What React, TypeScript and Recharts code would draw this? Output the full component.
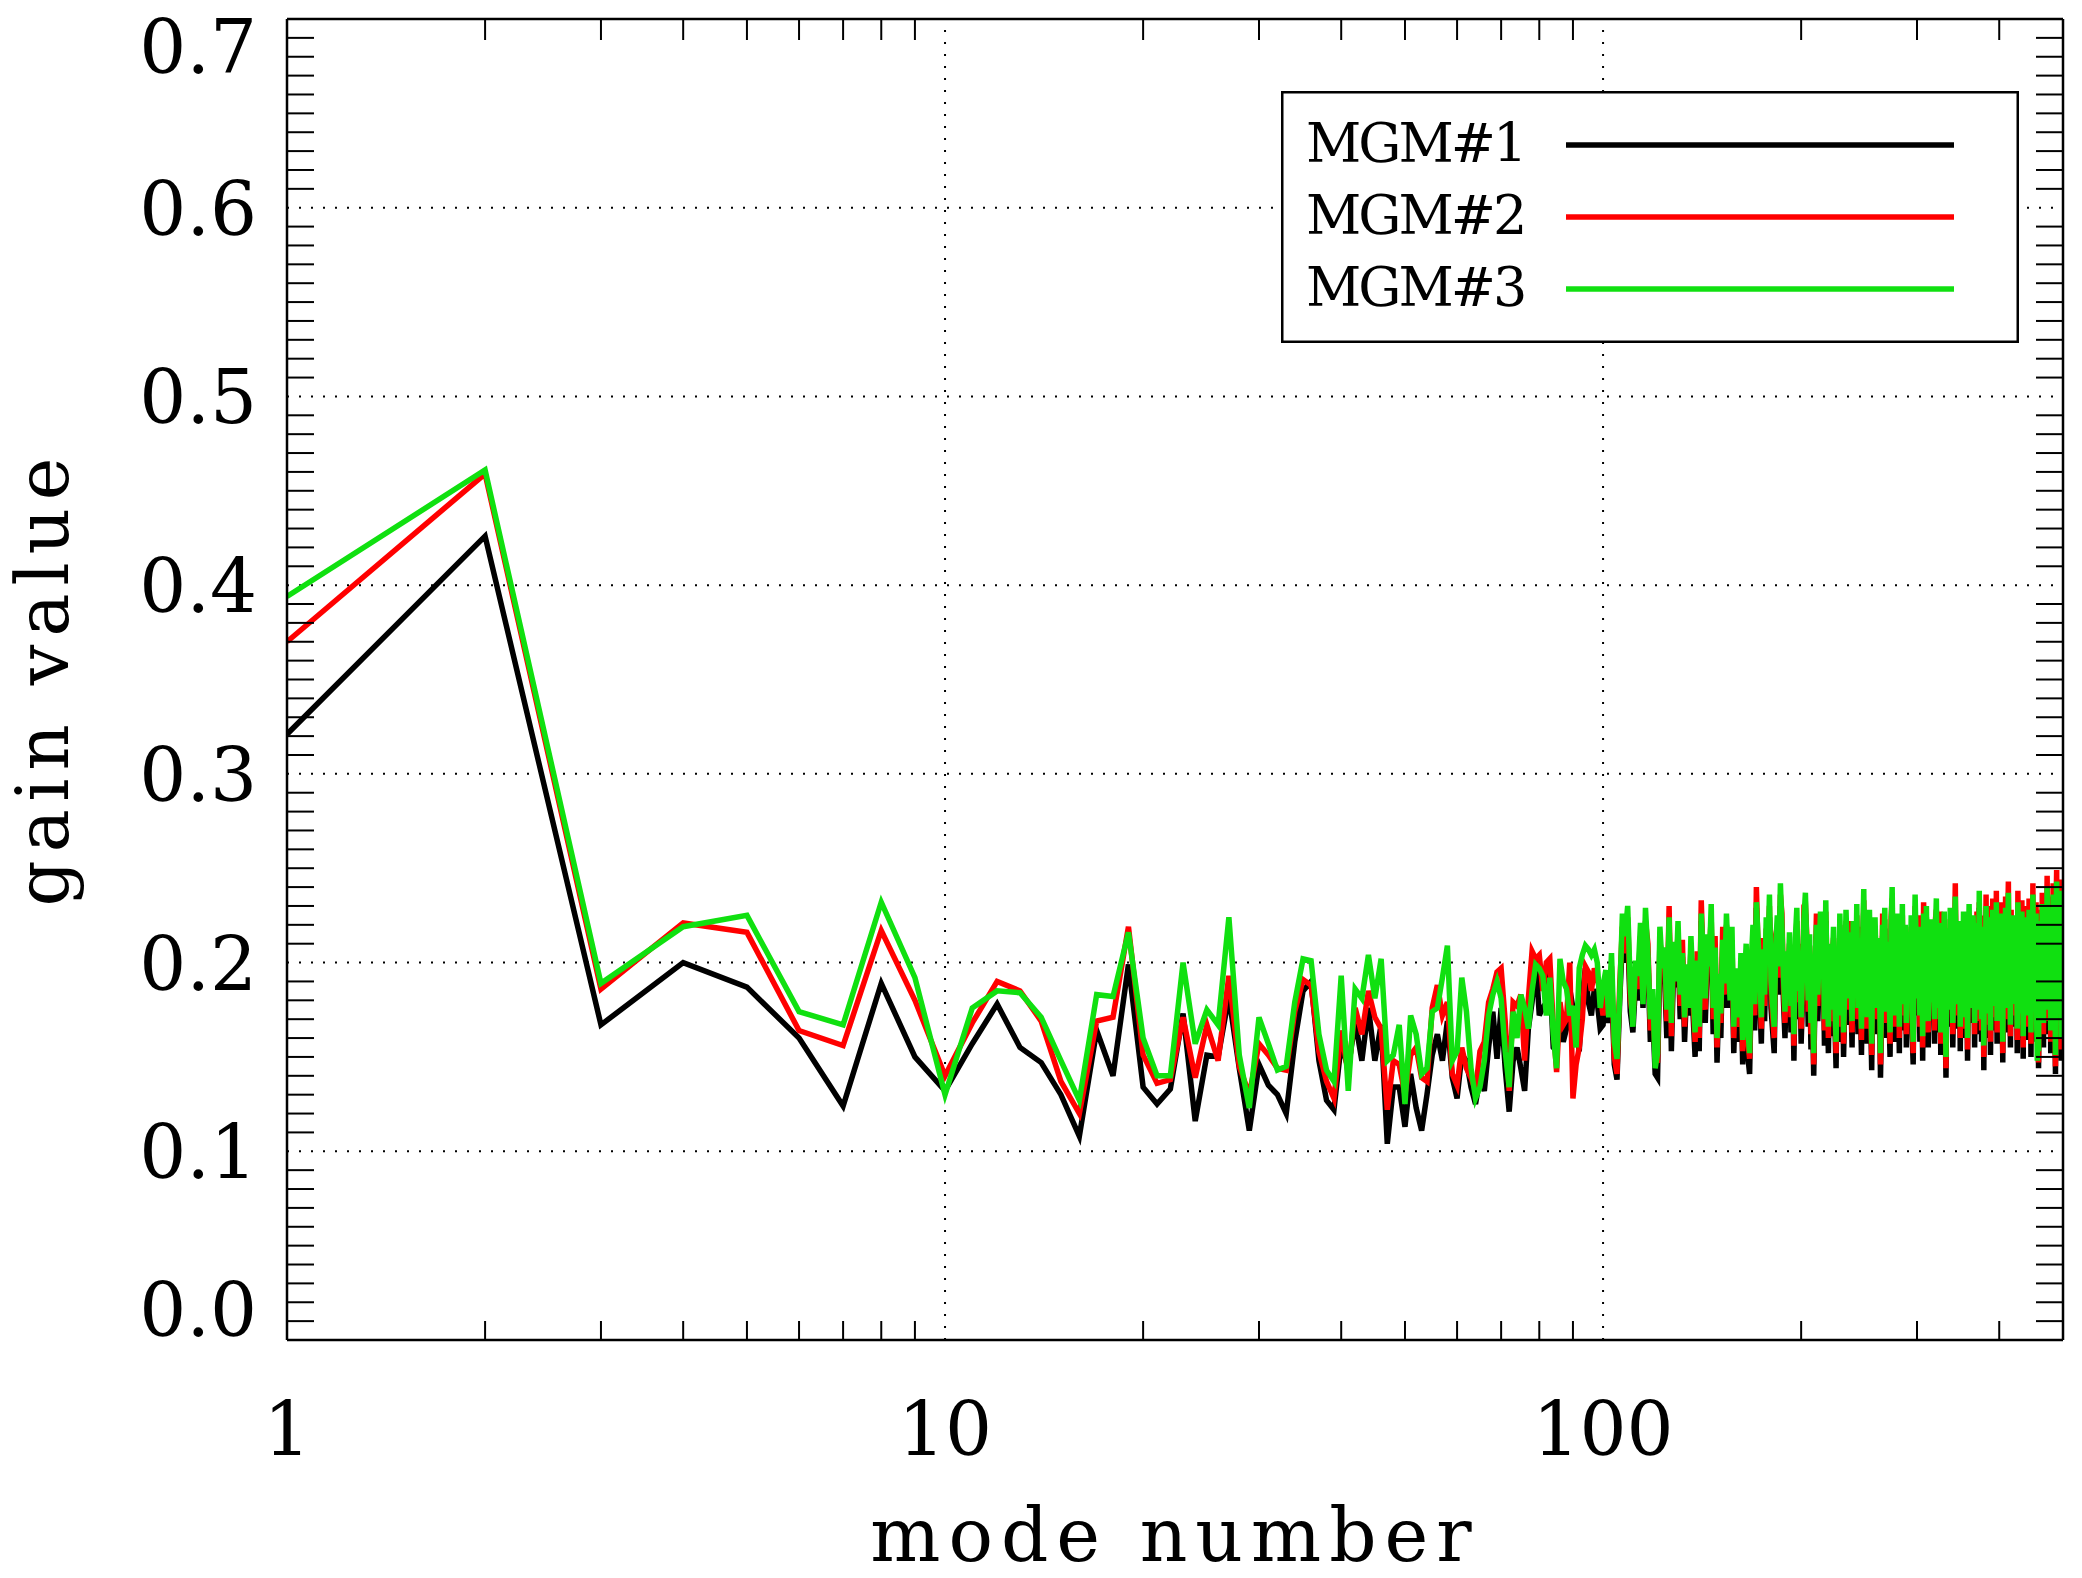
import React from "react";
import { LineChart, Line, XAxis, YAxis, ReferenceLine, Legend } from "recharts";

// one point per mode number, 1..500
const MODES = Array.from({ length: 500 }, (_, i) => i + 1);

// MGM#1 (black), modes 1-100 and 101-500
const MGM1_LOW = [
  .321, .426, .167, .200, .187, .160, .124, .189, .150, .132,
  .157, .178, .155, .147, .130, .108, .164, .140, .199, .134,
  .125, .133, .173, .116, .151, .150, .182, .144, .111, .146,
  .135, .130, .120, .158, .185, .190, .148, .127, .122, .157,
  .144, .169, .148, .176, .148, .167, .104, .134, .134, .113,
  .141, .123, .111, .130, .151, .162, .148, .169, .139, .128,
  .151, .148, .134, .125, .139, .132, .155, .174, .149, .176,
  .144, .121, .148, .155, .144, .132, .165, .179, .202, .172,
  .176, .179, .195, .155, .153, .174, .158, .165, .186, .176,
  .170, .153, .183, .197, .179, .172, .186, .179, .165, .167,
];
const MGM1_HIGH = [
  .185, .168, .192, .146, .138, .180, .212, .200, .216, .174, .163, .188, .180, .207, .176, .214, .201, .158, .172, .141,
  .139, .204, .192, .194, .160, .221, .153, .198, .187, .208, .170, .203, .158, .186, .172, .199, .173, .150, .196, .153,
  .222, .190, .168, .201, .193, .218, .162, .205, .147, .181, .160, .208, .176, .212, .187, .176, .204, .152, .183, .170,
  .158, .191, .146, .183, .197, .150, .141, .187, .206, .164, .229, .200, .181, .157, .203, .169, .210, .193, .224, .176,
  .164, .152, .204, .212, .183, .230, .214, .180, .160, .192, .184, .203, .163, .196, .148, .199, .216, .170, .199, .157,
  .183, .221, .226, .203, .166, .202, .154, .180, .140, .186, .214, .169, .191, .215, .179, .210, .156, .222, .183, .152,
  .197, .161, .192, .207, .170, .144, .197, .158, .212, .189, .199, .150, .180, .215, .190, .210, .167, .184, .155, .209,
  .201, .174, .219, .162, .206, .180, .151, .196, .228, .176, .188, .157, .211, .217, .177, .143, .200, .169, .213, .189,
  .162, .201, .188, .139, .171, .214, .192, .218, .160, .193, .199, .172, .150, .210, .229, .183, .201, .158, .176, .214,
  .194, .152, .203, .180, .219, .164, .188, .209, .155, .200, .170, .204, .184, .213, .161, .146, .195, .225, .199, .172,
  .186, .210, .158, .182, .200, .148, .218, .192, .176, .221, .182, .155, .207, .188, .171, .212, .196, .178, .157, .209,
  .224, .183, .163, .192, .211, .151, .181, .201, .189, .218, .170, .139, .191, .208, .195, .166, .218, .184, .199, .155,
  .179, .205, .228, .187, .165, .199, .172, .212, .153, .188, .204, .171, .218, .194, .160, .182, .209, .148, .197, .222,
  .183, .168, .203, .178, .217, .200, .155, .189, .170, .213, .194, .162, .229, .186, .207, .158, .180, .198, .143, .212,
  .187, .224, .170, .202, .160, .217, .184, .151, .204, .174, .222, .193, .164, .208, .180, .226, .157, .192, .172, .211,
  .201, .162, .219, .183, .147, .208, .190, .174, .221, .186, .163, .206, .228, .177, .197, .155, .214, .189, .168, .203,
  .214, .166, .196, .179, .209, .152, .224, .185, .171, .211, .160, .198, .219, .182, .149, .205, .187, .215, .169, .195,
  .206, .172, .159, .219, .184, .200, .150, .213, .179, .227, .165, .193, .204, .171, .218, .158, .190, .207, .144, .199,
  .178, .213, .186, .163, .222, .194, .155, .206, .182, .219, .168, .201, .231, .185, .162, .212, .176, .197, .152, .220,
  .190, .172, .228, .158, .205, .183, .141, .214, .234, .177, .199, .161, .222, .187, .170, .231, .148, .208, .180, .219,
];

// MGM#2 (red)
const MGM2_LOW = [
  .370, .459, .186, .221, .216, .164, .156, .217, .180, .140,
  .168, .190, .185, .169, .137, .120, .169, .171, .219, .151,
  .136, .138, .171, .139, .167, .148, .193, .145, .130, .157,
  .151, .144, .143, .174, .191, .188, .153, .137, .128, .164,
  .141, .176, .162, .185, .171, .165, .122, .148, .146, .130,
  .151, .155, .139, .137, .176, .188, .172, .179, .141, .135,
  .155, .144, .139, .132, .153, .158, .179, .186, .195, .197,
  .169, .132, .179, .177, .183, .148, .181, .206, .202, .204,
  .185, .200, .202, .167, .142, .179, .167, .170, .200, .128,
  .146, .155, .170, .198, .195, .185, .197, .192, .183, .172,
];
const MGM2_HIGH = [
  .190, .176, .198, .150, .141, .188, .219, .205, .224, .180, .171, .195, .186, .214, .183, .222, .210, .164, .179, .150,
  .147, .211, .203, .200, .169, .230, .161, .205, .196, .215, .177, .212, .166, .193, .182, .207, .180, .158, .206, .160,
  .233, .197, .175, .209, .204, .224, .170, .214, .155, .188, .168, .219, .183, .220, .196, .186, .212, .160, .190, .179,
  .166, .198, .153, .193, .204, .158, .149, .195, .214, .172, .240, .207, .189, .165, .213, .177, .218, .205, .230, .184,
  .172, .160, .215, .219, .192, .236, .226, .187, .168, .200, .194, .210, .171, .207, .156, .206, .222, .179, .210, .165,
  .190, .230, .231, .214, .174, .209, .162, .192, .146, .193, .226, .177, .199, .221, .187, .220, .164, .227, .195, .160,
  .204, .169, .204, .213, .178, .152, .207, .166, .220, .201, .206, .157, .193, .222, .198, .222, .175, .191, .163, .216,
  .213, .182, .225, .170, .219, .188, .159, .203, .233, .191, .194, .165, .223, .222, .184, .151, .212, .177, .218, .204,
  .170, .207, .202, .146, .178, .226, .199, .223, .168, .205, .205, .180, .157, .224, .234, .189, .214, .166, .183, .220,
  .207, .160, .208, .193, .225, .172, .201, .214, .162, .213, .177, .210, .198, .219, .168, .152, .209, .230, .206, .187,
  .191, .225, .166, .194, .205, .155, .232, .199, .190, .224, .188, .163, .221, .193, .185, .217, .202, .192, .164, .223,
  .228, .197, .170, .198, .227, .157, .195, .206, .203, .221, .177, .144, .204, .212, .200, .181, .223, .198, .204, .162,
  .193, .209, .242, .193, .172, .213, .178, .216, .160, .202, .207, .186, .221, .208, .165, .196, .212, .154, .211, .225,
  .187, .182, .208, .192, .219, .215, .162, .203, .176, .227, .198, .169, .232, .200, .210, .164, .195, .201, .150, .225,
  .192, .236, .175, .216, .167, .230, .186, .158, .217, .179, .234, .197, .171, .222, .185, .238, .163, .207, .178, .214,
  .216, .168, .232, .187, .152, .223, .194, .189, .235, .190, .170, .220, .243, .182, .211, .161, .228, .193, .175, .218,
  .219, .172, .209, .184, .221, .159, .238, .190, .178, .225, .167, .212, .233, .186, .155, .217, .192, .230, .174, .209,
  .211, .180, .166, .234, .189, .215, .157, .227, .184, .242, .172, .207, .208, .178, .232, .164, .205, .212, .147, .214,
  .183, .228, .190, .171, .237, .199, .162, .221, .187, .232, .176, .216, .246, .191, .169, .225, .182, .212, .158, .235,
  .195, .179, .242, .164, .218, .188, .145, .226, .249, .183, .213, .168, .234, .193, .177, .244, .154, .221, .186, .232,
];

// MGM#3 (green)
const MGM3_LOW = [
  .394, .461, .189, .219, .225, .174, .167, .232, .192, .130,
  .176, .185, .184, .171, .148, .127, .183, .182, .216, .160,
  .140, .140, .200, .157, .175, .167, .224, .151, .123, .171,
  .157, .143, .145, .179, .202, .201, .162, .143, .137, .193,
  .132, .186, .181, .204, .181, .202, .148, .151, .167, .125,
  .172, .162, .141, .144, .174, .176, .192, .209, .148, .153,
  .192, .174, .144, .128, .134, .148, .172, .183, .190, .181,
  .153, .134, .174, .160, .183, .176, .165, .185, .199, .197,
  .193, .172, .192, .162, .144, .202, .190, .186, .172, .177,
  .155, .197, .204, .209, .207, .204, .207, .200, .176, .188,
];
const MGM3_HIGH = [
  .196, .171, .205, .158, .149, .182, .226, .214, .230, .187, .166, .201, .193, .221, .178, .229, .204, .170, .186, .144,
  .152, .219, .197, .208, .175, .224, .168, .211, .190, .222, .183, .205, .171, .199, .176, .214, .187, .163, .201, .166,
  .226, .203, .181, .215, .198, .231, .176, .208, .160, .194, .173, .212, .189, .226, .201, .180, .219, .166, .197, .184,
  .171, .205, .159, .188, .210, .164, .152, .201, .220, .178, .232, .213, .195, .171, .207, .183, .224, .199, .236, .190,
  .178, .166, .209, .225, .198, .242, .219, .193, .174, .206, .188, .216, .177, .201, .162, .213, .229, .185, .204, .171,
  .196, .223, .237, .208, .180, .215, .168, .186, .152, .199, .220, .183, .205, .227, .193, .214, .170, .233, .189, .166,
  .210, .175, .198, .219, .184, .158, .201, .172, .226, .195, .212, .163, .187, .228, .204, .216, .181, .197, .169, .222,
  .207, .188, .231, .176, .213, .194, .165, .209, .239, .185, .200, .171, .217, .228, .190, .157, .206, .183, .224, .198,
  .176, .213, .196, .152, .184, .220, .205, .229, .174, .199, .211, .186, .163, .218, .240, .195, .208, .172, .189, .226,
  .201, .166, .214, .187, .231, .178, .195, .220, .168, .207, .183, .216, .192, .225, .174, .158, .203, .236, .212, .181,
  .197, .219, .172, .188, .211, .161, .226, .205, .184, .230, .194, .169, .215, .199, .179, .223, .208, .186, .170, .217,
  .234, .191, .176, .204, .221, .163, .189, .212, .197, .227, .183, .150, .198, .218, .206, .175, .229, .192, .210, .168,
  .187, .215, .235, .199, .178, .207, .184, .222, .166, .196, .213, .180, .227, .202, .171, .190, .218, .160, .205, .231,
  .193, .176, .214, .186, .225, .209, .168, .197, .182, .221, .204, .175, .238, .194, .216, .170, .189, .207, .156, .219,
  .198, .230, .181, .210, .173, .224, .192, .164, .211, .185, .228, .203, .177, .216, .191, .232, .169, .201, .184, .220,
  .210, .174, .226, .193, .158, .217, .200, .183, .229, .196, .176, .214, .237, .188, .205, .167, .222, .199, .181, .212,
  .225, .178, .203, .190, .215, .165, .232, .196, .184, .219, .173, .206, .227, .192, .161, .211, .198, .224, .180, .203,
  .217, .186, .172, .228, .195, .209, .163, .221, .190, .236, .178, .201, .214, .184, .226, .170, .148, .218, .153, .208,
  .189, .222, .196, .177, .231, .205, .168, .215, .193, .226, .182, .210, .240, .197, .175, .219, .188, .206, .164, .229,
  .201, .185, .236, .170, .212, .194, .151, .220, .243, .189, .207, .174, .228, .199, .183, .238, .160, .215, .192, .226,
];

const MGM1 = [...MGM1_LOW, ...MGM1_HIGH];
const MGM2 = [...MGM2_LOW, ...MGM2_HIGH];
const MGM3 = [...MGM3_LOW, ...MGM3_HIGH];

// axis ticks
const X_LABELS = [1, 10, 100];
const X_MINOR = [2, 3, 4, 5, 6, 7, 8, 9, 20, 30, 40, 50, 60, 70, 80, 90, 200, 300, 400];
const X_TICKS = [...X_LABELS, ...X_MINOR].sort((a, b) => a - b);
const X_GRID = [10, 100];
const Y_GRID = [0.1, 0.2, 0.3, 0.4, 0.5, 0.6];
const Y_TICKS = Array.from({ length: 71 }, (_, i) => i / 100);
const Y_MINOR = Y_TICKS.filter((v) => Math.round(v * 100) % 10 !== 0);

const SERIES = [
  { key: "mgm1", name: "MGM#1", color: "#000000" },
  { key: "mgm2", name: "MGM#2", color: "#ff0000" },
  { key: "mgm3", name: "MGM#3", color: "#10e010" },
];

const data = MODES.map((m, i) => ({ mode: m, mgm1: MGM1[i], mgm2: MGM2[i], mgm3: MGM3[i] }));

// layout: the svg sits at the page origin (body margin cancelled)
const W = 2082;
const H = 1578;
const PT = 19; // plot top
const PB = 1340; // plot bottom
const PL = 287;
const PR = 2063;
const FONT = "'DejaVu Serif', 'Liberation Serif', serif";

function BottomTick(props: any) {
  const { x, y, payload } = props;
  const v = payload.value;
  if (X_LABELS.includes(v)) {
    return (
      <text x={x} y={y + 115} textAnchor="middle" fontFamily={FONT} fontSize={74} fill="#000">
        {v}
      </text>
    );
  }
  return <line x1={x} x2={x} y1={y} y2={y - 19} stroke="#000" strokeWidth={2} />;
}

function TopTick(props: any) {
  const { x, y } = props;
  return <line x1={x} x2={x} y1={y} y2={y + 21} stroke="#000" strokeWidth={2} />;
}

function LeftTick(props: any) {
  const { x, y, payload } = props;
  const v = payload.value;
  const k = Math.round(v * 100);
  if (k % 10 === 0) {
    // top and bottom labels are kept inside the frame
    const by = k === 70 ? PT + 54 : k === 0 ? PB - 4 : y + 27;
    return (
      <text x={x - 30} y={by} textAnchor="end" fontFamily={FONT} fontSize={74} fill="#000">
        {v.toFixed(1)}
      </text>
    );
  }
  return <line x1={x} x2={x + 27} y1={y} y2={y} stroke="#000" strokeWidth={2} />;
}

function RightTick(props: any) {
  const { x, y } = props;
  return <line x1={x} x2={x - 27} y1={y} y2={y} stroke="#000" strokeWidth={2} />;
}

function XTitle() {
  return (
    <text x={(PL + PR) / 2} y={1561} textAnchor="middle" fontFamily={FONT} fontSize={74} letterSpacing={8} fill="#000">
      mode number
    </text>
  );
}

function YTitle() {
  const cx = 68;
  const cy = 678;
  return (
    <text
      x={cx}
      y={cy}
      transform={`rotate(-90, ${cx}, ${cy})`}
      textAnchor="middle"
      fontFamily={FONT}
      fontSize={72}
      letterSpacing={8}
      fill="#000"
    >
      gain value
    </text>
  );
}

function LegendBox() {
  return (
    <svg width={738} height={252} style={{ display: "block" }}>
      <rect x={1.25} y={1.25} width={735.5} height={249.5} fill="#fff" stroke="#000" strokeWidth={2.5} />
      {SERIES.map((s, i) => (
        <g key={s.key}>
          <text x={25} y={71 + 72 * i} fontFamily={FONT} fontSize={54} letterSpacing={-3} fill="#000">
            {s.name}
          </text>
          <line x1={285} x2={673} y1={54 + 72 * i} y2={54 + 72 * i} stroke={s.color} strokeWidth={5.5} />
        </g>
      ))}
    </svg>
  );
}

export default function App() {
  return (
    <div style={{ margin: -8 }}>
      <LineChart width={W} height={H} data={data} margin={{ top: 0, right: 0, bottom: 0, left: 79 }}>
        <XAxis
          dataKey="mode"
          type="number"
          scale="log"
          domain={[1, 500]}
          allowDataOverflow
          ticks={X_TICKS}
          interval={0}
          height={H - PB}
          tickSize={0}
          tickMargin={0}
          tickLine={false}
          axisLine={{ stroke: "#000", strokeWidth: 2.5 }}
          tick={(p: any) => <BottomTick {...p} />}
          label={<XTitle />}
        />
        <XAxis
          xAxisId="top"
          orientation="top"
          dataKey="mode"
          type="number"
          scale="log"
          domain={[1, 500]}
          allowDataOverflow
          ticks={X_MINOR}
          interval={0}
          height={PT}
          tickSize={0}
          tickMargin={0}
          tickLine={false}
          axisLine={{ stroke: "#000", strokeWidth: 2.5 }}
          tick={(p: any) => <TopTick {...p} />}
        />
        <YAxis
          type="number"
          domain={[0, 0.7]}
          allowDataOverflow
          ticks={Y_TICKS}
          interval={0}
          width={PL - 79}
          tickSize={0}
          tickMargin={0}
          tickLine={false}
          axisLine={{ stroke: "#000", strokeWidth: 2.5 }}
          tick={(p: any) => <LeftTick {...p} />}
          label={<YTitle />}
        />
        <YAxis
          yAxisId="right"
          orientation="right"
          type="number"
          domain={[0, 0.7]}
          allowDataOverflow
          ticks={Y_MINOR}
          interval={0}
          width={W - PR}
          tickSize={0}
          tickMargin={0}
          tickLine={false}
          axisLine={{ stroke: "#000", strokeWidth: 2.5 }}
          tick={(p: any) => <RightTick {...p} />}
        />
        {Y_GRID.map((v) => (
          <ReferenceLine key={"y" + v} y={v} stroke="#000" strokeWidth={2} strokeDasharray="2 10" />
        ))}
        {X_GRID.map((v) => (
          <ReferenceLine key={"x" + v} x={v} stroke="#000" strokeWidth={2} strokeDasharray="2 10" />
        ))}
        {SERIES.map((s) => (
          <Line
            key={s.key}
            type="linear"
            dataKey={s.key}
            name={s.name}
            stroke={s.color}
            strokeWidth={5.5}
            dot={false}
            activeDot={false}
            isAnimationActive={false}
          />
        ))}
        <Legend
          layout="vertical"
          align="center"
          verticalAlign="middle"
          content={() => <LegendBox />}
          wrapperStyle={{ left: 1281, top: 91, width: 738, height: 252, margin: 0, padding: 0 }}
        />
      </LineChart>
    </div>
  );
}
